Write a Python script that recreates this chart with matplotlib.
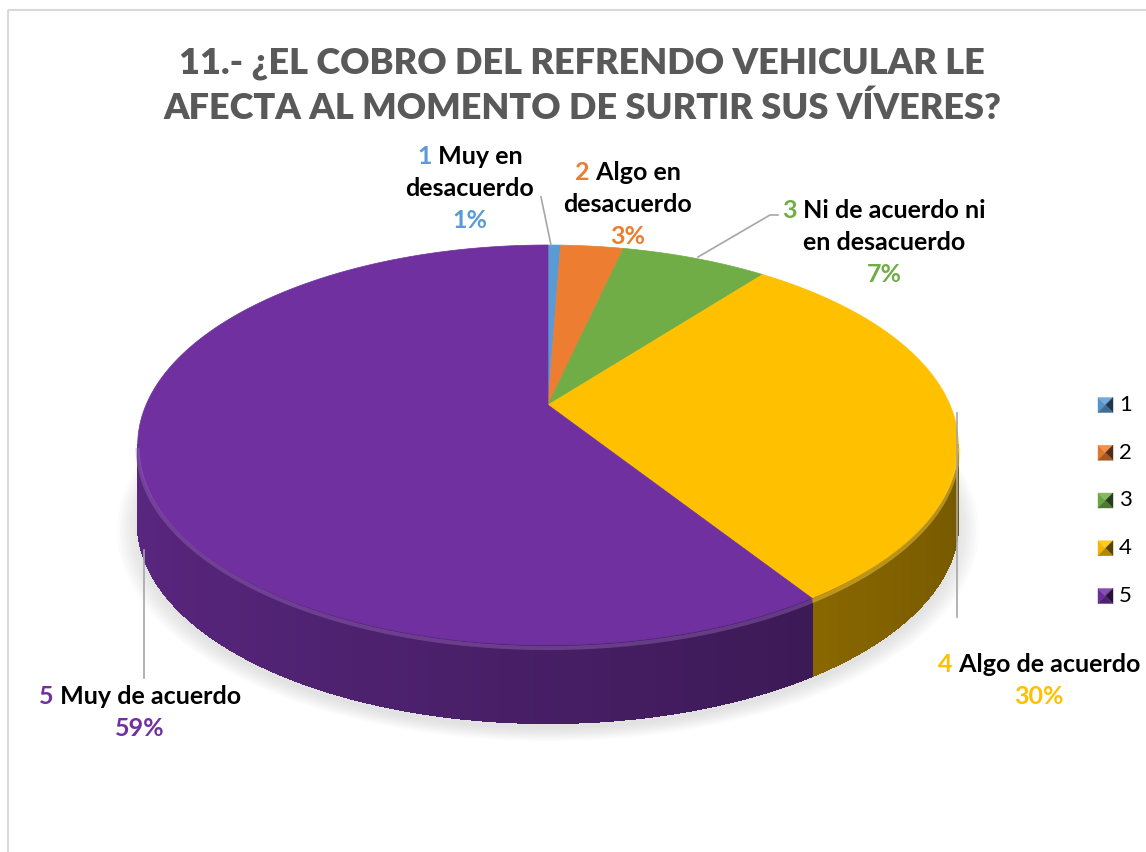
import numpy as np
import matplotlib
matplotlib.use("Agg")
import matplotlib.pyplot as plt
from matplotlib.patches import Polygon, Rectangle
from matplotlib.collections import PolyCollection
from matplotlib.colors import to_rgb

# ── data ──
categories = ["1", "2", "3", "4", "5"]
category_names = [
    ["Muy en", "desacuerdo"],
    ["Algo en", "desacuerdo"],
    ["Ni de acuerdo ni", "en desacuerdo"],
    ["Algo de acuerdo"],
    ["Muy de acuerdo"],
]
shares = [0.6, 3.0, 7.0, 30.2, 59.2]
colors = ["#5B9BD5", "#ED7D31", "#70AD47", "#FFC000", "#7030A0"]
title = "11.- ¿EL COBRO DEL REFRENDO VEHICULAR LE\nAFECTA AL MOMENTO DE SURTIR SUS VÍVERES?"

FONT = ["Lato", "DejaVu Sans"]

# ── geometry of the 3D pie (pixel space) ──
cx, cy = 548, 405       # apex of the slices
A, B = 402, 192         # radii before perspective
k = 0.2                 # perspective strength
D = 78                  # thickness of the pie


def project(theta, drop=0.0):
    u, v = np.cos(theta), np.sin(theta)
    w = 1 + k * v
    return cx + A * u / w, cy - B * v / w + drop


def mix(c, f, target=(0, 0, 0)):
    c = np.array(to_rgb(c))
    return tuple(c * f + np.array(target) * (1 - f))


fig = plt.figure(figsize=(11.46, 8.52), dpi=100)
ax = fig.add_axes([0, 0, 1, 1])
ax.set_xlim(0, 1146)
ax.set_ylim(852, 0)
ax.axis("off")

ax.add_patch(Rectangle((8, 10), 1300, 1000, fill=False, edgecolor="#D9D9D9", lw=1.5, zorder=0))

ax.text(582, 86, title, ha="center", va="center", fontsize=26, fontweight="heavy",
        color="#595959", family=FONT, linespacing=1.45)

# slice angle bounds, clockwise from 12 o'clock
vals = np.array(shares)
cum = np.concatenate([[0], np.cumsum(vals)]) / vals.sum()
bounds = np.deg2rad(90 - 360 * cum)

# soft shadow under the pie
t_all = np.linspace(0, 2 * np.pi, 300)
for s in np.linspace(1.0, 1.05, 8):
    u, v = np.cos(t_all), np.sin(t_all)
    w = 1 + k * v
    xs = cx + A * s * u / w
    ys = cy - B * s * v / w + D + 6
    ax.add_patch(Polygon(np.column_stack([xs, ys]), closed=True, facecolor="#a0a0a0",
                         edgecolor="none", alpha=0.04, zorder=1))

# side walls (only the visible front part)
vis_lo = np.deg2rad(-180) + np.arcsin(k)
vis_hi = -np.arcsin(k)
quads, qcols = [], []
for i in range(len(vals)):
    a1, a2 = bounds[i], bounds[i + 1]
    lo, hi = max(a2, vis_lo), min(a1, vis_hi)
    if hi <= lo:
        continue
    ts = np.linspace(hi, lo, max(int(np.rad2deg(hi - lo) * 3), 2))
    for t0, t1 in zip(ts[:-1], ts[1:]):
        x0, y0 = project(t0)
        x1, y1 = project(t1)
        quads.append([(x0, y0), (x1, y1), (x1, y1 + D), (x0, y0 + D)])
        um = np.cos((t0 + t1) / 2)
        f = 0.8 - 0.34 * (um + 1) / 2
        qcols.append(mix(colors[i], f))
ax.add_collection(PolyCollection(quads, facecolors=qcols, edgecolors=qcols, linewidths=0.8,
                                 antialiased=False, zorder=2))

# top faces
for i in range(len(vals)):
    a1, a2 = bounds[i], bounds[i + 1]
    ts = np.linspace(a1, a2, max(int(np.rad2deg(a1 - a2) * 2), 3))
    xs, ys = project(ts)
    pts = np.vstack([[cx, cy], np.column_stack([xs, ys])])
    ax.add_patch(Polygon(pts, closed=True, facecolor=colors[i], edgecolor=colors[i],
                         lw=0.5, zorder=3))
    # light rim on the front edge
    lo, hi = max(a2, vis_lo), min(a1, vis_hi)
    if hi > lo:
        tr = np.linspace(hi, lo, 100)
        rx, ry = project(tr)
        ax.plot(rx, ry + 3, color=mix(colors[i], 0.75, (1, 1, 1)), lw=3, alpha=0.45,
                solid_capstyle="butt", zorder=4)

# ── data labels ──
renderer = fig.canvas.get_renderer()


def colored_line(xc, y, parts, size=18):
    texts = []
    for s, c in parts:
        texts.append(ax.text(0, y, s, ha="left", va="center", fontsize=size,
                             fontweight="bold", color=c, family=FONT, zorder=6))
    widths = [t.get_window_extent(renderer).width for t in texts]
    x = xc - sum(widths) / 2
    for t, wdt in zip(texts, widths):
        t.set_x(x)
        x += wdt


label_pos = [(470, 156), (628, 172), (884, 210), (1039, 665), (140, 697)]
line_gap = 32
for i, (xc, y0) in enumerate(label_pos):
    names = category_names[i]
    colored_line(xc, y0, [(categories[i], colors[i]), (" " + names[0], "black")])
    y = y0
    for extra in names[1:]:
        y += line_gap
        colored_line(xc, y, [(extra, "black")])
    y += line_gap
    colored_line(xc, y, [(f"{round(shares[i])}%", colors[i])])

# leader lines
leaders = [
    [(541, 197), (551, 245)],
    [(698, 257), (770, 215), (778, 215)],
    [(957, 413), (957, 617)],
    [(144, 550), (144, 678)],
]
for pts in leaders:
    xs, ys = zip(*pts)
    ax.plot(xs, ys, color="#A6A6A6", lw=1.2, zorder=5)

# ── legend ──
leg_x, leg_y0, leg_step, sq = 1098, 405, 47.75, 15
for i, cat in enumerate(categories):
    yc = leg_y0 + i * leg_step
    x0, x1 = leg_x, leg_x + sq
    y0, y1 = yc - sq / 2, yc + sq / 2
    m = ((x0 + x1) / 2, yc)
    tris = [
        ([(x0, y0), m, (x0, y1)], mix(colors[i], 0.95)),
        ([(x0, y0), (x1, y0), m], mix(colors[i], 0.85, (1, 1, 1))),
        ([(x1, y0), (x1, y1), m], mix(colors[i], 0.35)),
        ([(x0, y1), (x1, y1), m], mix(colors[i], 0.7)),
    ]
    for pts, c in tris:
        ax.add_patch(Polygon(pts, closed=True, facecolor=c, edgecolor=c, lw=0.3, zorder=5))
    ax.text(x1 + 6, yc, cat, ha="left", va="center", fontsize=16, color="black",
            family=FONT, zorder=5)

fig.savefig("out.png", dpi=100)
